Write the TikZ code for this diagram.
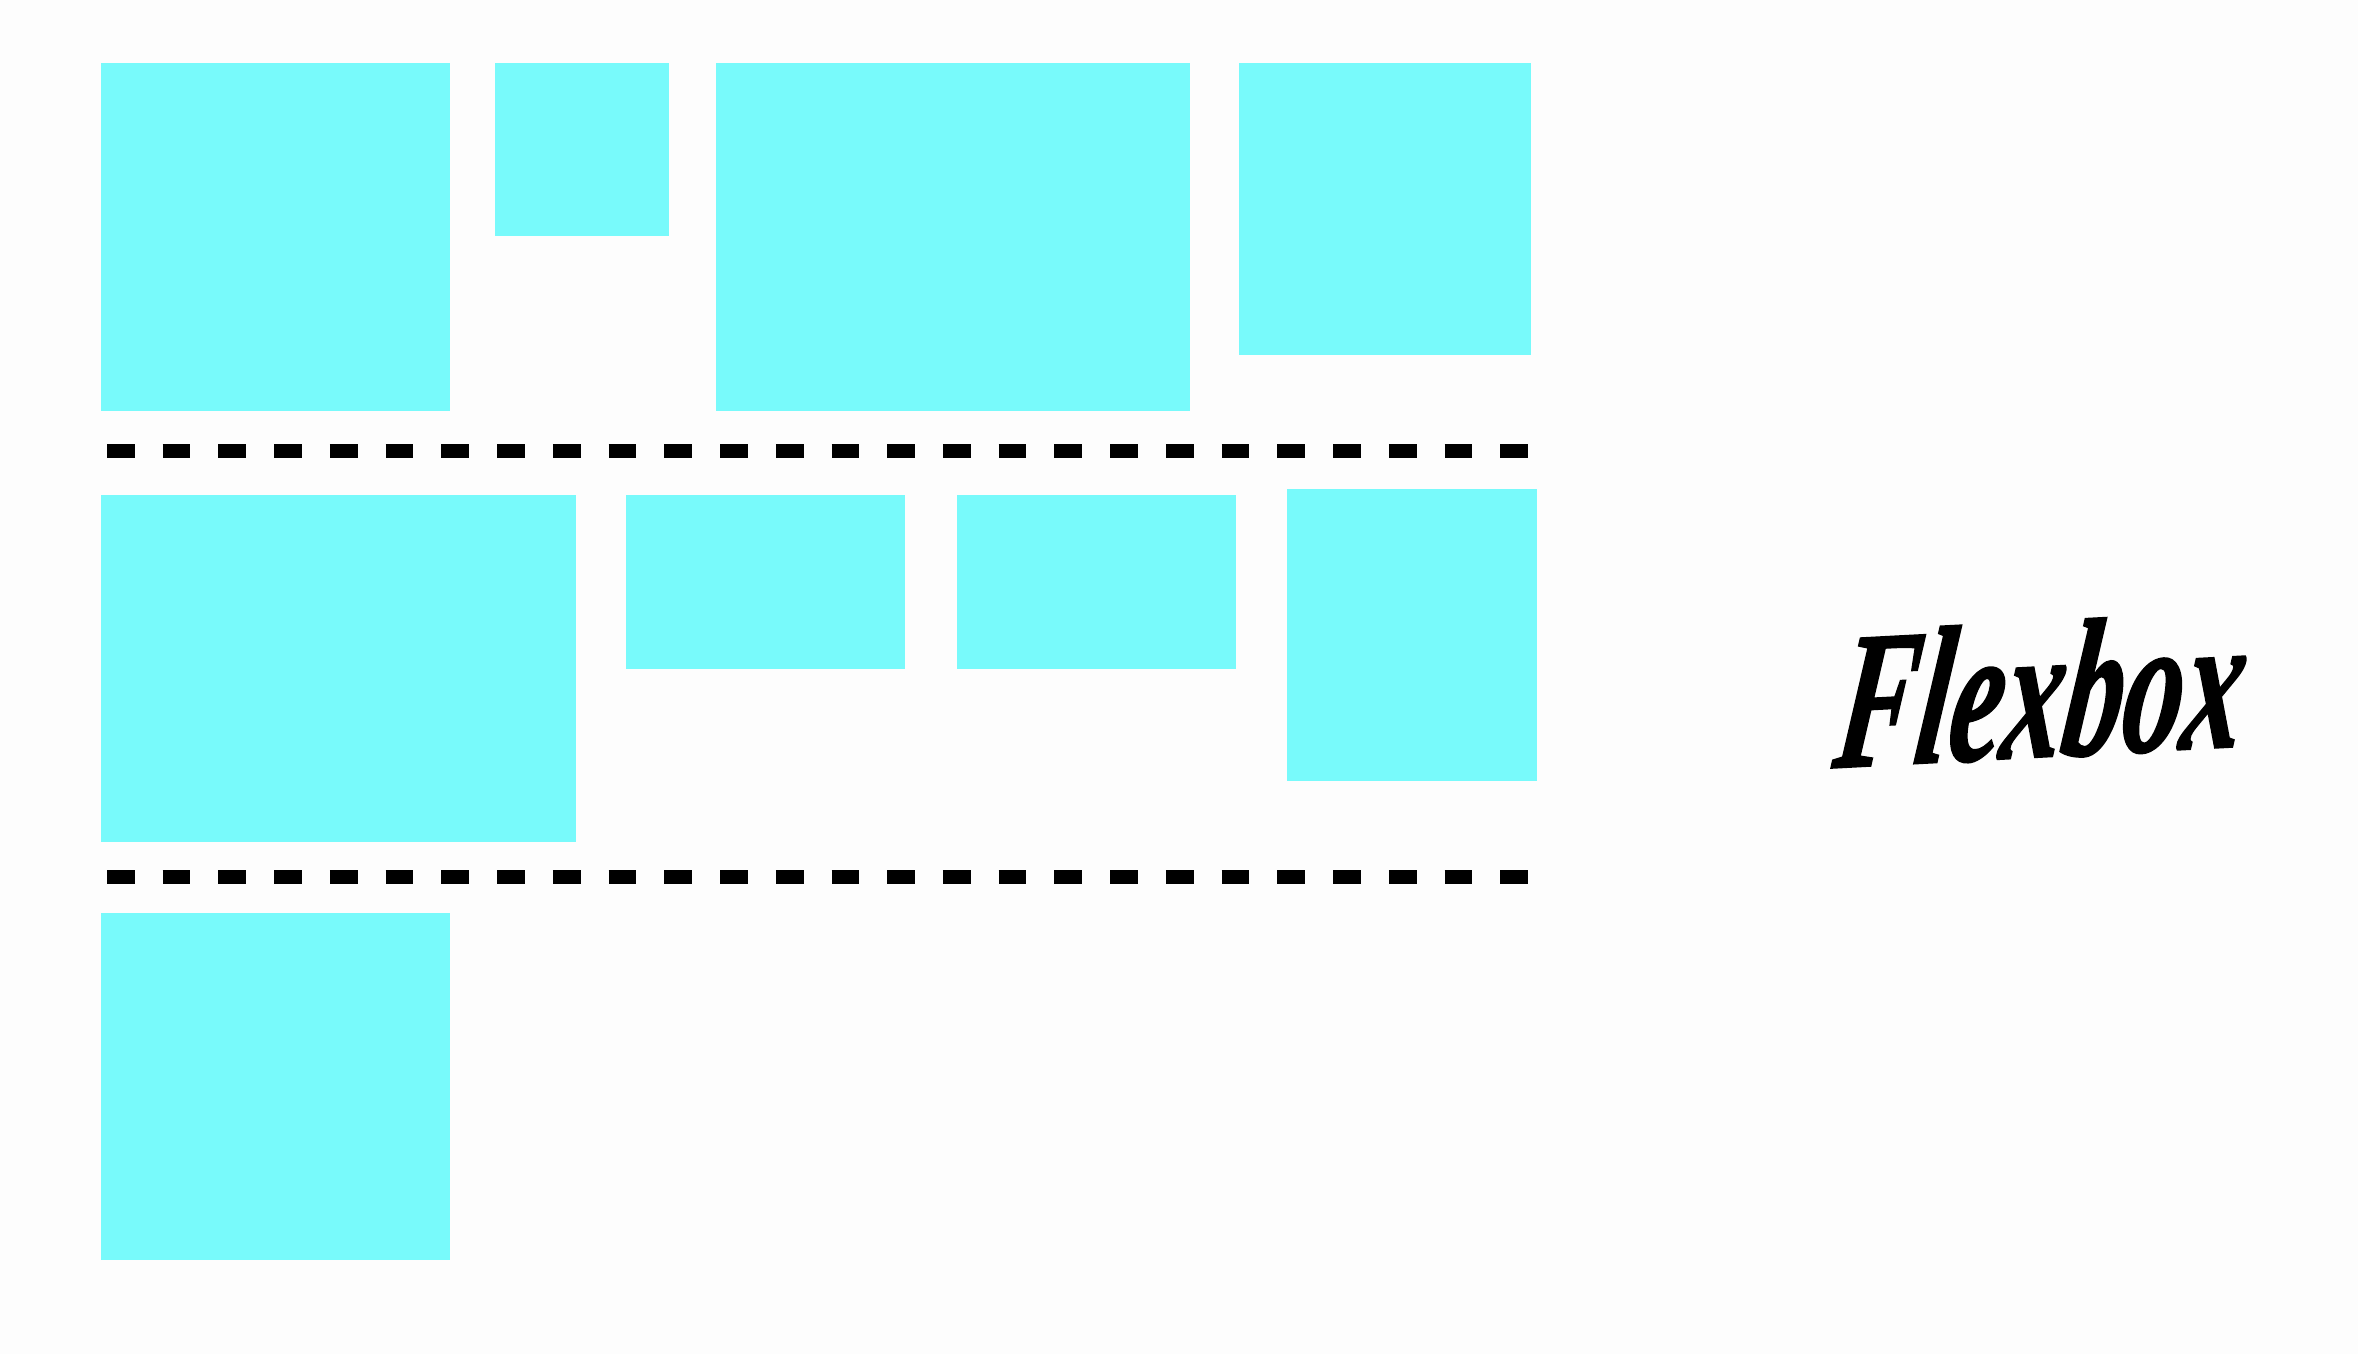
\documentclass[tikz,border=0pt]{standalone}
\usepackage{fontspec}
\usepackage{graphicx}
\setmainfont{Liberation Serif}
\newfontfamily\brushfont[FakeBold=1.2]{Liberation Serif}
\definecolor{flexcyan}{RGB}{120,250,251}
\definecolor{paper}{RGB}{253,253,253}
\begin{document}
\begin{tikzpicture}[x=0.01cm,y=-0.01cm,
  flexitem/.style={fill=flexcyan,draw=none},
  rowsep/.style={draw=black,line width=0.137cm,dash pattern=on 0.277cm off 0.28cm}]
\fill[paper] (0,0) rectangle (2358,1354);
\useasboundingbox (0,0) rectangle (2358,1354);
% row 1
\path[flexitem] (101,63) rectangle (450,411);
\path[flexitem] (495,63) rectangle (669,236);
\path[flexitem] (716,63) rectangle (1190,411);
\path[flexitem] (1239,63) rectangle (1531,355);
% separator 1
\coordinate (s1a) at (107,451);
\coordinate (s1b) at (1531,451);
\draw[rowsep] (s1a) -- (s1b);
% row 2
\path[flexitem] (101,495) rectangle (576,842);
\path[flexitem] (626,495) rectangle (905,669);
\path[flexitem] (957,495) rectangle (1236,669);
\path[flexitem] (1287,489) rectangle (1537,781);
% separator 2
\coordinate (s2a) at (107,877);
\coordinate (s2b) at (1531,877);
\draw[rowsep] (s2a) -- (s2b);
% row 3
\path[flexitem] (101,913) rectangle (450,1260);
% title
\node[inner sep=0pt,rotate=3,xslant=0.18,transform shape] (title) at (2043,690) {\resizebox{4.07cm}{1.35cm}{\brushfont\bfseries\itshape Flexbox}};
\end{tikzpicture}
\end{document}
